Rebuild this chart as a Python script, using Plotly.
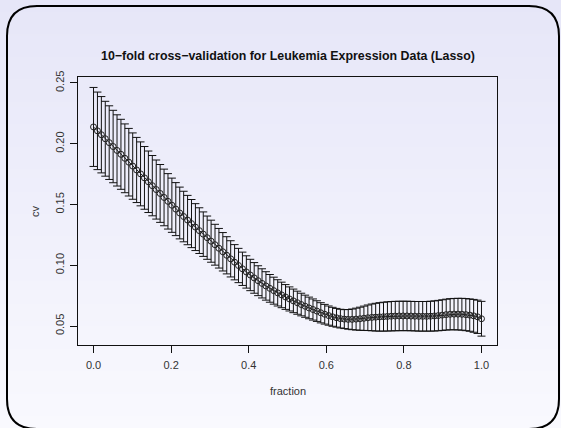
import base64, struct, zlib
import plotly.graph_objects as go

# ---- data ----
fraction = [i / 99 for i in range(100)]
cv = [0.2138, 0.2106, 0.2074, 0.2041, 0.2009, 0.1977, 0.1945, 0.1913, 0.1880, 0.1848,
      0.1816, 0.1784, 0.1752, 0.1719, 0.1687, 0.1655, 0.1623, 0.1591, 0.1558, 0.1526,
      0.1494, 0.1462, 0.1430, 0.1401, 0.1372, 0.1343, 0.1314, 0.1285, 0.1256, 0.1227,
      0.1198, 0.1169, 0.1140, 0.1111, 0.1082, 0.1053, 0.1025, 0.0998, 0.0971, 0.0945,
      0.0920, 0.0896, 0.0873, 0.0851, 0.0830, 0.0810, 0.0791, 0.0773, 0.0756, 0.0739,
      0.0723, 0.0707, 0.0692, 0.0677, 0.0663, 0.0649, 0.0636, 0.0623, 0.0609, 0.0597,
      0.0586, 0.0576, 0.0568, 0.0561, 0.0557, 0.0555, 0.0555, 0.0557, 0.0560, 0.0564,
      0.0568, 0.0571, 0.0573, 0.0575, 0.0577, 0.0579, 0.0581, 0.0582, 0.0583, 0.0583,
      0.0583, 0.0582, 0.0581, 0.0580, 0.0580, 0.0580, 0.0581, 0.0583, 0.0586, 0.0590,
      0.0594, 0.0597, 0.0598, 0.0598, 0.0597, 0.0594, 0.0590, 0.0584, 0.0576, 0.0560]
cv_se = [0.0325, 0.0319, 0.0314, 0.0308, 0.0303, 0.0298, 0.0293, 0.0288, 0.0283, 0.0278,
         0.0273, 0.0268, 0.0263, 0.0258, 0.0253, 0.0248, 0.0243, 0.0238, 0.0233, 0.0228,
         0.0223, 0.0218, 0.0213, 0.0208, 0.0203, 0.0198, 0.0193, 0.0188, 0.0183, 0.0178,
         0.0173, 0.0168, 0.0163, 0.0158, 0.0153, 0.0149, 0.0145, 0.0141, 0.0137, 0.0133,
         0.0129, 0.0126, 0.0123, 0.0120, 0.0117, 0.0114, 0.0111, 0.0108, 0.0105, 0.0102,
         0.0099, 0.0097, 0.0095, 0.0093, 0.0091, 0.0089, 0.0087, 0.0085, 0.0083, 0.0081,
         0.0079, 0.0078, 0.0077, 0.0077, 0.0078, 0.0081, 0.0085, 0.0090, 0.0095, 0.0100,
         0.0105, 0.0110, 0.0114, 0.0117, 0.0119, 0.0120, 0.0121, 0.0121, 0.0121, 0.0121,
         0.0121, 0.0121, 0.0121, 0.0122, 0.0122, 0.0122, 0.0123, 0.0124, 0.0125, 0.0126,
         0.0127, 0.0128, 0.0129, 0.0130, 0.0131, 0.0132, 0.0133, 0.0135, 0.0137, 0.0143]
x_ticks = [0.0, 0.2, 0.4, 0.6, 0.8, 1.0]
y_ticks = [0.05, 0.10, 0.15, 0.20, 0.25]
title_text = "10\u2212fold cross\u2212validation for Leukemia Expression Data (Lasso)"
x_label = "fraction"
y_label = "cv"

# ---- layout geometry (pixels) ----
W, H = 561, 428
L, R, T, B = 78, 497, 77, 345
pw, ph = R - L, B - T


def px(x):
    return (x - L) / pw


def py(y):
    return (B - y) / ph


# gradient background as tiny PNG
def gradient_png(h, top, bot):
    raw = b""
    for i in range(h):
        t = i / (h - 1)
        c = bytes(int(round(top[k] + (bot[k] - top[k]) * t)) for k in range(3))
        raw += b"\x00" + c
    def chunk(tag, data):
        return struct.pack(">I", len(data)) + tag + data + struct.pack(">I", zlib.crc32(tag + data) & 0xffffffff)
    png = b"\x89PNG\r\n\x1a\n"
    png += chunk(b"IHDR", struct.pack(">IIBBBBB", 1, h, 8, 2, 0, 0, 0))
    png += chunk(b"IDAT", zlib.compress(raw))
    png += chunk(b"IEND", b"")
    return "data:image/png;base64," + base64.b64encode(png).decode()


bg = gradient_png(H, (230, 230, 248), (249, 249, 254))

fig = go.Figure()
fig.add_trace(go.Scatter(
    x=fraction, y=cv, mode="lines+markers",
    line=dict(color="#222222", width=1),
    marker=dict(symbol="circle-open", size=6, color="#222222", line=dict(width=1)),
    error_y=dict(type="data", array=cv_se, visible=True, color="#111111", thickness=1, width=4),
    showlegend=False, hoverinfo="skip"))

# rounded frame
bx0, by0, bx1, by1, r = 7, 6, 559, 429, 30
pts = [
    ("M", [(bx0 + r, by0)]), ("L", [(bx1 - r, by0)]), ("Q", [(bx1, by0), (bx1, by0 + r)]),
    ("L", [(bx1, by1 - r)]), ("Q", [(bx1, by1), (bx1 - r, by1)]),
    ("L", [(bx0 + r, by1)]), ("Q", [(bx0, by1), (bx0, by1 - r)]),
    ("L", [(bx0, by0 + r)]), ("Q", [(bx0, by0), (bx0 + r, by0)]),
]
path = " ".join(c + " " + " ".join(f"{px(a):.5f},{py(b):.5f}" for a, b in p) for c, p in pts) + " Z"

font = "Liberation Sans, Arial, Helvetica, sans-serif"
fig.update_layout(
    width=W, height=H,
    margin=dict(l=L, r=W - R, t=T, b=H - B, pad=0),
    paper_bgcolor="rgb(249,249,254)",
    plot_bgcolor="rgba(0,0,0,0)",
    font=dict(family=font, size=11, color="#333333"),
    images=[dict(source=bg, xref="paper", yref="paper", x=px(0), y=py(0),
                 sizex=W / pw, sizey=H / ph, sizing="stretch", xanchor="left",
                 yanchor="top", layer="below")],
    shapes=[dict(type="path", path=path, xref="paper", yref="paper",
                 line=dict(color="#000000", width=2), fillcolor="rgba(0,0,0,0)", layer="below")],
    annotations=[
        dict(text="<b>" + title_text + "</b>", xref="paper", yref="paper", x=0.5, y=py(56),
             xanchor="center", yanchor="middle", showarrow=False,
             font=dict(family=font, size=12.4, color="#111111")),
        dict(text=x_label, xref="paper", yref="paper", x=0.5, y=py(391),
             xanchor="center", yanchor="middle", showarrow=False, font=dict(size=11)),
        dict(text=y_label, xref="paper", yref="paper", x=px(35), y=py(211),
             xanchor="center", yanchor="middle", showarrow=False, textangle=-90, font=dict(size=11)),
    ],
    xaxis=dict(range=[-0.04, 1.04], tickvals=x_ticks, ticktext=[f"{v:.1f}" for v in x_ticks],
               showgrid=False, zeroline=False, showline=True, mirror=True, linecolor="#111111",
               linewidth=1, ticks="outside", ticklen=7, tickcolor="#111111",
               ticklabelstandoff=3, tickfont=dict(size=11, color="#333333")),
    yaxis=dict(range=[0.0344, 0.2549],
               tickvals=y_ticks, ticktext=[f"{v:.2f}" for v in y_ticks],
               showgrid=False, zeroline=False, showline=True, mirror=True, linecolor="#111111",
               linewidth=1, ticks="outside", ticklen=7, tickcolor="#111111", tickangle=-90,
               ticklabelstandoff=2, tickfont=dict(size=11, color="#333333")),
)

fig.write_html("out.html")
